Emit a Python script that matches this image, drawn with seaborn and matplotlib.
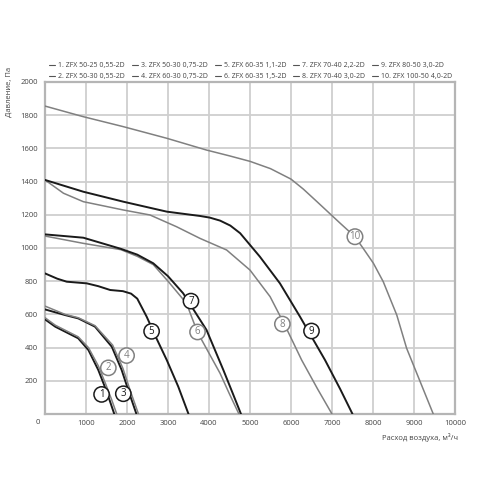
import numpy as np
import pandas as pd
import matplotlib
matplotlib.use('Agg')
import matplotlib.pyplot as plt
import seaborn as sns

# %% curve data (airflow m3/h, pressure Pa)
names = ['1. ZFX 50-25 0,55-2D', '2. ZFX 50-30 0,55-2D',
         '3. ZFX 50-30 0,75-2D', '4. ZFX 60-30 0,75-2D',
         '5. ZFX 60-35 1,1-2D', '6. ZFX 60-35 1,5-2D',
         '7. ZFX 70-40 2,2-2D', '8. ZFX 70-40 3,0-2D',
         '9. ZFX 80-50 3,0-2D', '10. ZFX 100-50 4,0-2D']

q1 = [0, 250, 570, 810, 1060, 1300, 1450, 1580, 1690]
p1 = [570, 526, 486, 456, 385, 265, 170, 80, 0]
q2 = [0, 250, 570, 810, 1060, 1300, 1480, 1620, 1750]
p2 = [580, 535, 495, 465, 400, 290, 180, 90, 0]
q3 = [0, 490, 810, 1220, 1630, 1870, 2050, 2230]
p3 = [630, 596, 576, 526, 405, 265, 130, 0]
q4 = [0, 490, 810, 1220, 1650, 1900, 2080, 2280]
p4 = [650, 600, 580, 532, 415, 275, 140, 0]
q5 = [0, 300, 530, 1020, 1300, 1590, 1900, 2100, 2250, 2480, 2720,
      2970, 3250, 3500]
p5 = [847, 815, 797, 787, 770, 747, 740, 725, 695, 586, 455,
      325, 165, 0]
q6 = [0, 935, 1850, 2250, 2640, 3000, 3450, 3720, 4270, 4500, 4730]
p6 = [1072, 1028, 990, 950, 900, 800, 667, 492, 245, 120, 0]
q7 = [0, 935, 1850, 2250, 2640, 3000, 3370, 3940, 4350, 4570, 4780]
p7 = [1082, 1062, 995, 960, 908, 830, 727, 506, 265, 130, 0]
q8 = [0, 450, 935, 1910, 2560, 3210, 3780, 4430, 5000, 5490, 5880,
      6260, 6650, 7000]
p8 = [1410, 1330, 1279, 1229, 1199, 1128, 1058, 988, 867, 707, 520,
      325, 150, 0]
q9 = [0, 935, 1910, 2970, 3780, 4020, 4270, 4520, 4760, 5240, 5730,
      6220, 6830, 7200, 7500]
p9 = [1410, 1339, 1279, 1219, 1193, 1183, 1165, 1135, 1089, 948, 787,
      586, 325, 150, 0]
q10 = [0, 935, 1910, 2970, 3940, 4500, 5000, 5500, 6000, 6300, 6630,
       7200, 7560, 7760, 8010, 8250, 8580, 8820, 9150, 9470]
p10 = [1855, 1791, 1731, 1661, 1590, 1555, 1522, 1478, 1415, 1355, 1280,
       1149, 1068, 998, 908, 797, 596, 396, 195, 0]

# circle label spots
label_q = [1380, 1545, 1910, 1990, 2600, 3720, 3560, 5790, 6500, 7560]
label_p = [118, 278, 122, 352, 498, 494, 680, 542, 500, 1068]

x_ticks = list(range(1000, 10001, 1000))
y_ticks = list(range(200, 2001, 200))

curves = [(q1, p1), (q2, p2), (q3, p3), (q4, p4), (q5, p5),
          (q6, p6), (q7, p7), (q8, p8), (q9, p9), (q10, p10)]

# %% plotting
sns.set_style('white')
plt.rcParams['font.family'] = ['Open Sans', 'DejaVu Sans']
text_col = '#444444'
grid_col = '#cfcfcf'

fig = plt.figure(figsize=(5, 5), dpi=100)
ax = fig.add_axes([0.09, 0.172, 0.82, 0.664])

for i, (q, p) in enumerate(curves):
    dark = (i % 2 == 0)
    col = '#1a1a1a' if dark else '#808080'
    df = pd.DataFrame({'q': q, 'p': p})
    sns.lineplot(data=df, x='q', y='p', color=col,
                 linewidth=1.4 if dark else 1.1, sort=False,
                 estimator=None, label=names[i], ax=ax, zorder=3)
    ax.text(label_q[i], label_p[i], str(i + 1), ha='center', va='center',
            fontsize=7, color=col, zorder=5,
            bbox=dict(boxstyle='circle,pad=0.22', fc='white', ec=col,
                      lw=1.1))

ax.set_xlim(0, 10000)
ax.set_ylim(0, 2000)
ax.set_xticks(x_ticks)
ax.set_yticks(y_ticks)
ax.grid(True, color=grid_col, linewidth=1.3)
ax.set_axisbelow(True)
for s in ax.spines.values():
    s.set_color('#b5b5b5')
    s.set_linewidth(1.6)
ax.tick_params(axis='both', length=0, labelsize=5.5, colors=text_col)
ax.tick_params(axis='x', pad=4)
ax.tick_params(axis='y', pad=5)
ax.set_xlabel('')
ax.set_ylabel('')
ax.annotate('0', xy=(0, 0), xytext=(-7, -9), textcoords='offset pixels',
            ha='center', va='center', fontsize=5.5, color=text_col)

fig.text(458 / 500, 1 - 437 / 500, 'Расход воздуха, м³/ч', ha='right',
         va='center', fontsize=5.5, color=text_col)
fig.text(9 / 500, 1 - 92 / 500, 'Давление, Па', rotation=90, ha='center',
         va='center', fontsize=5.5, color=text_col)

leg = ax.legend(ncol=5, loc='lower left', bbox_to_anchor=(0.0, 0.993),
                frameon=False, fontsize=5, handlelength=0.9,
                handletextpad=0.4, columnspacing=1.0, labelspacing=0.55,
                borderaxespad=0.2)
for t in leg.get_texts():
    t.set_color(text_col)
for h in leg.get_lines():
    h.set_linewidth(0.8)
    h.set_color('#555555')

fig.savefig('out.png', dpi=100)
